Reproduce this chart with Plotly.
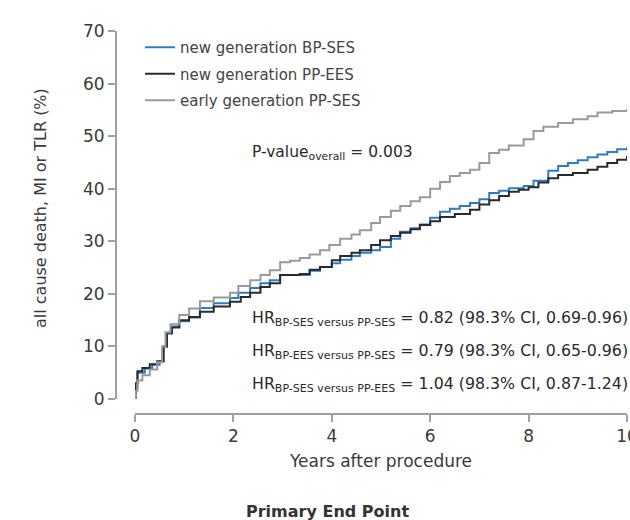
import plotly.graph_objects as go

# ---- data ----
bp_ses_t = [0, 0.01, 0.05, 0.2, 0.35, 0.5, 0.58, 0.65, 0.75, 0.9, 1.1, 1.32, 1.6, 1.93, 2.1, 2.34, 2.55, 2.74, 2.95, 3.35, 3.55, 3.76, 4.0, 4.17, 4.4, 4.57, 4.8, 4.98, 5.2, 5.39, 5.6, 5.79, 6.0, 6.2, 6.4, 6.6, 6.81, 7.0, 7.2, 7.4, 7.6, 7.9, 8.1, 8.4, 8.6, 8.8, 9.0, 9.2, 9.4, 9.6, 9.8, 10.0]
bp_ses_v = [0, 2.3, 5.0, 5.8, 6.5, 7.2, 10.0, 12.5, 13.8, 14.8, 15.5, 17.3, 18.2, 19.2, 20.2, 21.1, 22.0, 22.6, 23.6, 23.6, 24.4, 25.1, 25.8, 26.5, 27.2, 27.8, 28.3, 28.9, 30.5, 31.8, 32.5, 33.2, 34.5, 35.6, 36.2, 36.7, 37.3, 38.0, 39.2, 39.6, 40.1, 40.5, 41.5, 43.4, 44.3, 44.9, 45.4, 46.0, 46.5, 47.0, 47.5, 47.9]

pp_ees_t = [0, 0.01, 0.05, 0.15, 0.3, 0.45, 0.58, 0.65, 0.75, 0.9, 1.1, 1.32, 1.6, 1.93, 2.15, 2.34, 2.55, 2.74, 2.95, 3.35, 3.55, 3.76, 4.0, 4.17, 4.4, 4.57, 4.8, 4.98, 5.2, 5.39, 5.6, 5.79, 6.0, 6.2, 6.5, 6.81, 7.0, 7.2, 7.4, 7.6, 7.8, 8.0, 8.2, 8.4, 8.6, 8.9, 9.2, 9.4, 9.6, 9.8, 10.0]
pp_ees_v = [0, 3.0, 5.3, 5.9, 6.6, 7.2, 10.0, 12.5, 13.6, 15.0, 15.6, 16.6, 17.6, 18.5, 19.4, 20.2, 21.3, 22.0, 23.6, 23.8, 24.6, 25.1, 26.4, 27.2, 27.8, 28.3, 29.3, 30.2, 31.0, 31.6, 32.3, 33.1, 33.8, 34.6, 35.2, 36.0, 37.0, 37.8, 38.6, 39.4, 39.8, 40.3, 41.2, 42.0, 42.6, 43.0, 43.6, 44.2, 44.9, 45.5, 46.2]

pp_ses_t = [0, 0.01, 0.05, 0.15, 0.3, 0.45, 0.55, 0.62, 0.72, 0.9, 1.1, 1.32, 1.6, 1.93, 2.1, 2.34, 2.55, 2.74, 2.95, 3.15, 3.35, 3.55, 3.76, 3.95, 4.17, 4.4, 4.57, 4.8, 4.98, 5.2, 5.39, 5.6, 5.79, 6.0, 6.2, 6.4, 6.6, 6.81, 7.0, 7.2, 7.4, 7.6, 7.9, 8.1, 8.3, 8.6, 8.9, 9.2, 9.4, 9.7, 10.0]
pp_ses_v = [0, 1.5, 3.5, 4.5, 5.6, 7.0, 10.0, 12.7, 14.2, 16.0, 17.2, 18.6, 19.3, 20.2, 21.5, 22.6, 23.6, 24.5, 26.0, 26.3, 26.8, 27.5, 28.3, 29.3, 30.5, 31.3, 32.1, 33.5, 34.6, 35.8, 36.7, 37.6, 38.4, 40.0, 41.3, 42.4, 43.0, 43.6, 44.9, 46.8, 47.4, 48.2, 49.4, 51.0, 51.8, 52.5, 53.2, 53.8, 54.5, 54.8, 55.2]

series_names = ["new generation BP-SES", "new generation PP-EES", "early generation PP-SES"]
series_colors = ["#2f7cc6", "#2b2b2b", "#9a9a9a"]

x_ticks = [0, 2, 4, 6, 8, 10]
y_ticks = [0, 10, 20, 30, 40, 50, 60, 70]

FONT = "DejaVu Sans"
TXT = "#3a3a3a"

fig = go.Figure()
for i, (t, v) in enumerate([(bp_ses_t, bp_ses_v), (pp_ees_t, pp_ees_v), (pp_ses_t, pp_ses_v)]):
    fig.add_trace(go.Scatter(
        x=t, y=v, mode="lines", name=series_names[i],
        line=dict(color=series_colors[i], width=2, shape="hv"),
        legendgroup=str(i),
    ))

W, H = 630, 520
fig.update_layout(
    width=W, height=H,
    margin=dict(l=0, r=0, t=0, b=0, autoexpand=False),
    paper_bgcolor="white", plot_bgcolor="white",
    font=dict(family=FONT, color=TXT),
    showlegend=True,
    legend=dict(
        x=140 / W, y=1 - 31 / H, xanchor="left", yanchor="top",
        font=dict(size=15, color="#444", family=FONT),
        bgcolor="rgba(0,0,0,0)", tracegroupgap=4, itemwidth=30,
    ),
    xaxis=dict(
        domain=[135 / W, 627 / W], range=[0, 10], automargin=False,
        anchor="free", position=(H - 414) / H,
        showline=True, linecolor="#a0a0a0", linewidth=2,
        ticks="outside", ticklen=7, tickcolor="#a0a0a0", tickwidth=2,
        tickvals=x_ticks, ticktext=[str(v) for v in x_ticks],
        ticklabeloverflow="allow",
        tickfont=dict(size=17, color=TXT), showgrid=False, zeroline=False,
        title=dict(text="Years after procedure", font=dict(size=17, color=TXT), standoff=9),
    ),
    yaxis=dict(
        domain=[(H - 399) / H, (H - 31) / H], range=[0, 70], automargin=False,
        anchor="free", position=116 / W,
        showline=True, linecolor="#a0a0a0", linewidth=2,
        ticks="outside", ticklen=7, tickcolor="#a0a0a0", tickwidth=2,
        tickvals=y_ticks, ticktext=[str(v) for v in y_ticks],
        ticklabeloverflow="allow",
        tickfont=dict(size=17, color=TXT), showgrid=False, zeroline=False,
    ),
)

ann = []
ann.append(dict(text="all cause death, MI or TLR (%)", x=40 / W, y=1 - 208 / H, xref="paper", yref="paper",
                textangle=-90, showarrow=False, font=dict(size=16, color=TXT), xanchor="center", yanchor="middle"))
ann.append(dict(text="P-value<sub>overall</sub> = 0.003", x=250 / W, y=1 - 153 / H, xref="paper", yref="paper",
                showarrow=False, font=dict(size=15.5, color="#2a2a2a"), xanchor="left", yanchor="middle"))
hr_lines = [
    ("BP-SES versus PP-SES", "0.82 (98.3% CI, 0.69-0.96)"),
    ("BP-EES versus PP-SES", "0.79 (98.3% CI, 0.65-0.96)"),
    ("BP-SES versus PP-EES", "1.04 (98.3% CI, 0.87-1.24)"),
]
for k, (sub, val) in enumerate(hr_lines):
    ann.append(dict(text=f"HR<sub>{sub}</sub> = {val}", x=250 / W, y=1 - (318 + 33 * k) / H,
                    xref="paper", yref="paper", showarrow=False,
                    font=dict(size=15.8, color="#2a2a2a"), xanchor="left", yanchor="middle"))
ann.append(dict(text="<b>Primary End Point</b>", x=327 / W, y=1 - 511 / H, xref="paper", yref="paper",
                showarrow=False, font=dict(size=16, color="#333"), xanchor="center", yanchor="middle"))
fig.update_layout(annotations=ann)

fig.write_html("out.html", config={"displayModeBar": False},
               post_script="document.body.style.margin='0';document.body.style.padding='0';")
